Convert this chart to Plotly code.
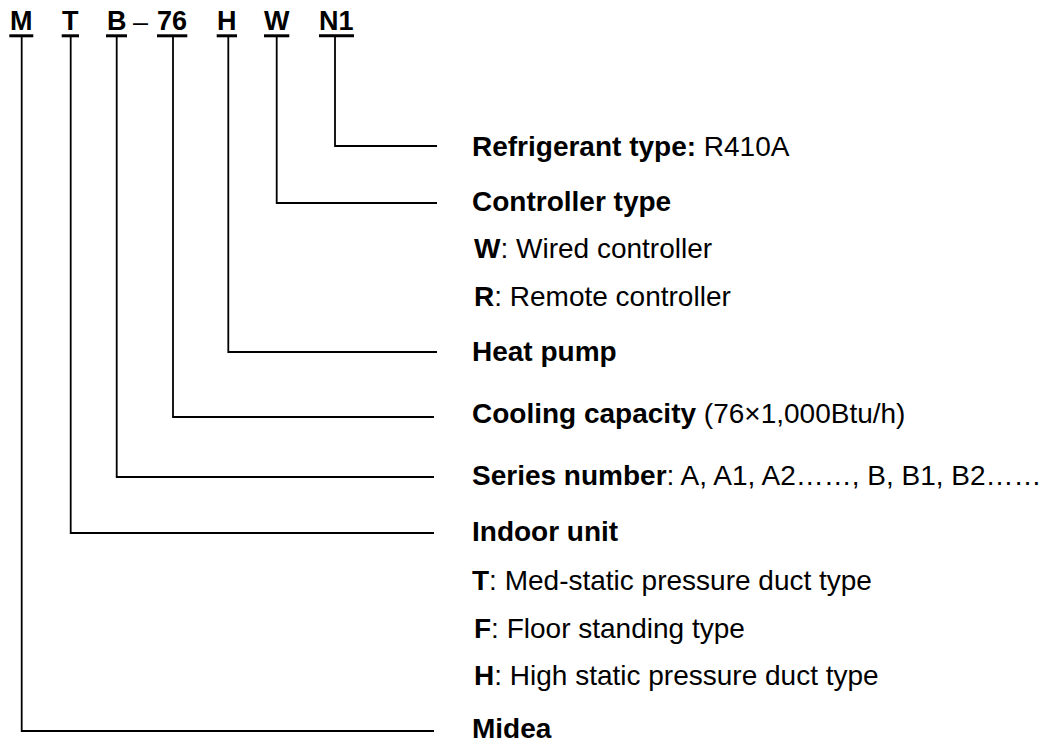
import plotly.graph_objects as go

# --- data -------------------------------------------------------------
codes = ["M", "T", "B", "76", "H", "W", "N1"]
code_center_x = [21.5, 70.5, 116.5, 172.0, 227.0, 276.5, 336.5]
underline_left = [9.3, 61.7, 106.0, 157.0, 216.7, 264.0, 319.0]
underline_right = [33.3, 79.0, 127.0, 187.3, 237.0, 289.3, 354.0]
stem_x = [21.7, 70.7, 116.7, 173.0, 228.3, 276.7, 335.0]
level_y = [731, 533, 477, 417, 352, 203, 146]
line_end_x = [434, 434, 434, 434, 437, 437, 437]

label_texts = [
    "<b>Refrigerant type:</b> R410A",
    "<b>Controller type</b>",
    "<b>W</b>: Wired controller",
    "<b>R</b>: Remote controller",
    "<b>Heat pump</b>",
    "<b>Cooling capacity</b> (76×1,000Btu/h)",
    "<b>Series number</b>: A, A1, A2……, B, B1, B2……",
    "<b>Indoor unit</b>",
    "<b>T</b>: Med-static pressure duct type",
    "<b>F</b>: Floor standing type",
    "<b>H</b>: High static pressure duct type",
    "<b>Midea</b>",
]
label_x = [470, 470, 472, 472, 470, 470, 470, 470, 470, 472, 472, 470]
label_y = [148, 203, 250, 298, 353, 415, 477, 533, 582, 630, 677, 730]

STEM_TOP = 37
UNDERLINE_Y = 35.8
CODE_Y = 22.5
DASH_X = 140.5
DASH_Y = 24
TEXT_SHIFT = -2  # annotation boxes sit slightly low relative to cap centre

# --- figure -----------------------------------------------------------
fig = go.Figure()

cx, cy = [], []
for sx, ly, ex in zip(stem_x, level_y, line_end_x):
    cx += [sx, sx, ex, None]
    cy += [STEM_TOP, ly, ly, None]
fig.add_trace(go.Scatter(x=cx, y=cy, mode="lines",
                         line=dict(color="black", width=1.8),
                         hoverinfo="skip", showlegend=False))

ux, uy = [], []
for l, r in zip(underline_left, underline_right):
    ux += [l, r, None]
    uy += [UNDERLINE_Y, UNDERLINE_Y, None]
fig.add_trace(go.Scatter(x=ux, y=uy, mode="lines",
                         line=dict(color="black", width=3),
                         hoverinfo="skip", showlegend=False))

FONT = "Liberation Sans, Arial, sans-serif"
annotations = []
for c, x in zip(codes, code_center_x):
    annotations.append(dict(x=x, y=CODE_Y + TEXT_SHIFT, text=f"<b>{c}</b>", showarrow=False,
                            xanchor="center", yanchor="middle",
                            font=dict(family=FONT, size=27, color="black")))
annotations.append(dict(x=DASH_X, y=DASH_Y + TEXT_SHIFT, text="–", showarrow=False,
                        xanchor="center", yanchor="middle",
                        font=dict(family=FONT, size=27, color="black")))
for t, x, y in zip(label_texts, label_x, label_y):
    annotations.append(dict(x=x, y=y + TEXT_SHIFT, text=t, showarrow=False,
                            xanchor="left", yanchor="middle",
                            font=dict(family=FONT, size=28, color="black")))

fig.update_layout(
    width=1043, height=744,
    margin=dict(l=0, r=0, t=0, b=0),
    paper_bgcolor="white", plot_bgcolor="white",
    xaxis=dict(range=[0, 1043], visible=False, fixedrange=True),
    yaxis=dict(range=[744, 0], visible=False, fixedrange=True),
    annotations=annotations,
)

fig.write_html("out.html", config={"displayModeBar": False},
               post_script="document.body.style.margin='0';")
